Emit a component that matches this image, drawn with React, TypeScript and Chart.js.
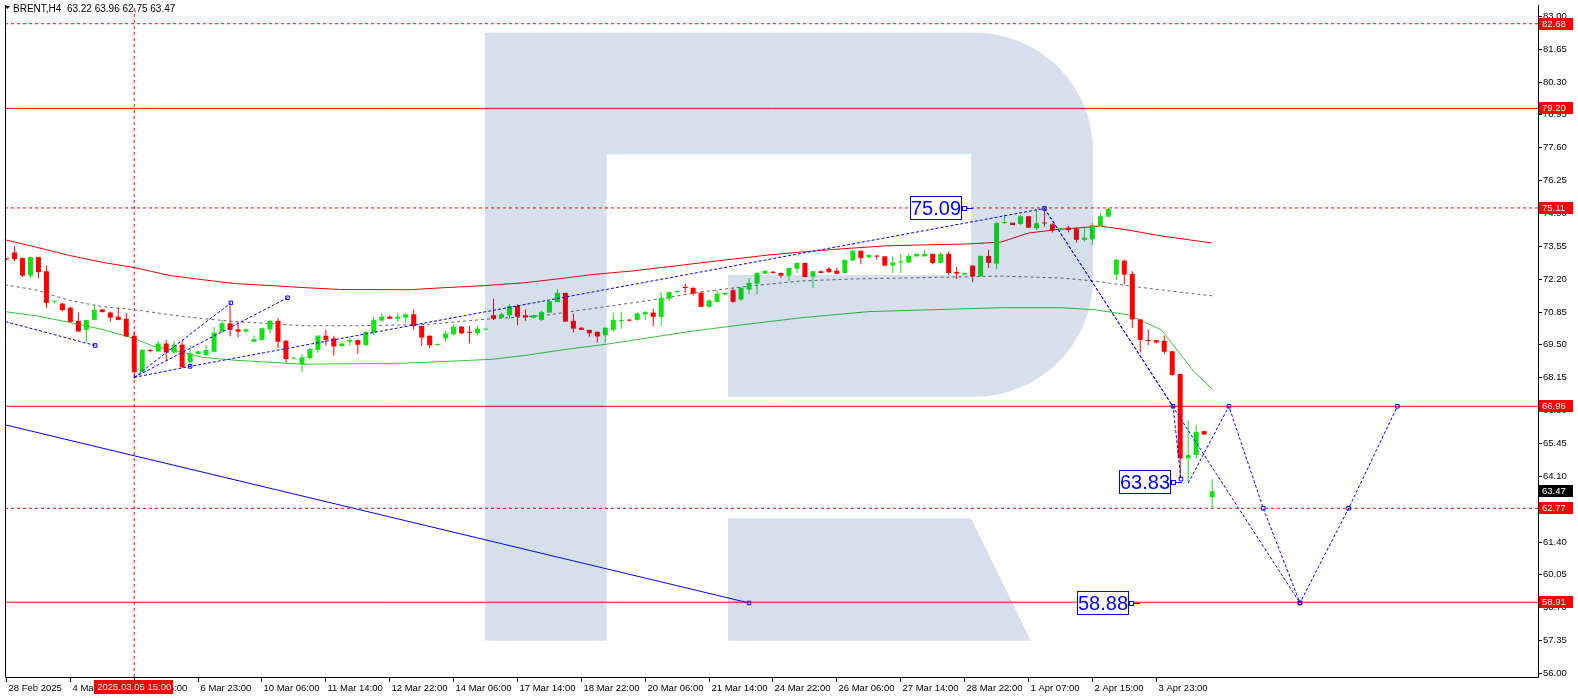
import React, { useEffect, useRef } from "react";
import { Chart, registerables } from "chart.js";

Chart.register(...registerables);

// ---- Candles (BRENT H4), bar index 0 = 28 Feb 2025 ----
const opens = [
  73.03, 73.28, 73.05, 72.33, 73.09, 72.51, 71.26, 71.18, 71.01, 70.47,
  70.10, 70.51, 70.94, 70.81, 70.64, 70.56, 69.86, 68.36, 69.25, 69.21,
  69.54, 69.17, 69.49, 68.77, 69.11, 69.06, 69.20, 70.03, 70.37, 70.12,
  70.03, 69.61, 69.69, 70.12, 70.47, 69.65, 68.92, 68.70, 68.94, 69.28,
  69.86, 69.75, 69.43, 69.61, 69.68, 69.47, 69.99, 70.48, 70.64, 70.56,
  70.60, 70.74, 70.26, 69.86, 69.48, 69.75, 69.92, 70.23, 70.00, 69.96,
  70.11, 70.70, 70.60, 70.70, 71.08, 70.70, 70.60, 70.51, 70.81, 71.24,
  71.62, 70.47, 70.19, 70.10, 70.02, 69.88, 70.10, 70.46, 70.50, 70.51,
  70.74, 70.81, 70.64, 71.38, 71.65, 71.84, 71.83, 71.62, 71.05, 71.25,
  71.55, 71.73, 71.35, 71.76, 72.00, 72.41, 72.49, 72.44, 72.33, 72.61,
  72.85, 72.30, 72.51, 72.61, 72.53, 72.44, 72.95, 73.35, 73.08, 73.13,
  73.12, 72.74, 72.87, 72.87, 73.12, 73.12, 73.22, 72.85, 73.22, 72.48,
  72.37, 72.74, 72.30, 73.14, 72.82, 74.49, 74.50, 74.45, 74.77, 74.27,
  74.49, 74.44, 74.20, 74.30, 74.27, 73.80, 73.82, 74.34, 74.75, 72.37,
  72.94, 72.40, 70.53, 69.66, 69.68, 69.65, 69.22, 68.29, 64.82, 64.96,
  65.94, 63.22,
];
const highs = [
  73.05, 73.53, 73.07, 73.10, 73.10, 72.75, 71.31, 71.21, 71.05, 70.81,
  70.51, 71.15, 70.97, 70.85, 71.01, 70.78, 70.06, 69.31, 69.31, 69.65,
  69.69, 69.65, 69.65, 69.45, 69.23, 69.49, 70.23, 70.51, 71.10, 70.43,
  70.16, 69.87, 70.20, 70.51, 70.60, 69.69, 68.98, 69.11, 69.37, 69.88,
  70.10, 69.86, 69.55, 69.79, 69.69, 70.06, 70.64, 70.77, 70.70, 70.77,
  70.77, 70.94, 70.27, 69.87, 69.54, 70.06, 70.33, 70.26, 70.26, 70.26,
  70.15, 71.38, 70.81, 71.15, 71.15, 70.94, 70.72, 70.88, 71.29, 71.78,
  71.63, 70.77, 70.21, 70.11, 70.03, 70.20, 70.78, 70.83, 70.54, 70.81,
  70.88, 70.97, 71.65, 71.69, 71.72, 72.00, 71.84, 71.69, 71.35, 71.73,
  71.64, 71.78, 71.84, 72.23, 72.47, 72.54, 72.51, 72.45, 72.65, 72.87,
  72.86, 72.52, 72.53, 72.68, 72.64, 72.99, 73.39, 73.36, 73.20, 73.18,
  73.14, 73.12, 73.22, 73.22, 73.24, 73.39, 73.23, 73.28, 73.32, 72.68,
  72.45, 72.75, 73.15, 73.39, 74.51, 74.85, 74.51, 74.82, 74.78, 75.03,
  75.09, 74.48, 74.28, 74.38, 74.30, 74.27, 74.48, 74.91, 75.11, 73.01,
  72.98, 72.51, 70.54, 70.12, 69.69, 69.86, 69.24, 68.30, 66.39, 66.19,
  65.95, 63.96,
];
const lows = [
  72.97, 72.93, 72.27, 72.21, 72.21, 71.01, 71.18, 70.87, 70.40, 70.02,
  69.58, 70.50, 70.81, 70.43, 70.50, 69.82, 68.09, 68.35, 69.17, 69.20,
  68.84, 69.11, 68.55, 68.63, 69.09, 69.05, 69.19, 69.99, 69.83, 69.79,
  70.00, 69.60, 69.65, 69.96, 69.35, 68.77, 68.88, 68.36, 68.88, 69.15,
  69.45, 69.04, 69.42, 69.45, 69.11, 69.45, 69.88, 70.43, 70.55, 70.43,
  70.40, 70.10, 69.45, 69.34, 69.45, 69.62, 69.88, 69.92, 69.55, 69.88,
  70.09, 70.51, 70.56, 70.56, 70.29, 70.47, 70.58, 70.47, 70.80, 71.23,
  70.43, 69.99, 70.08, 69.83, 69.58, 69.58, 70.02, 70.15, 70.44, 70.47,
  70.51, 70.26, 70.26, 71.28, 71.63, 71.62, 71.51, 71.04, 71.01, 71.24,
  71.53, 71.21, 71.28, 71.55, 71.55, 72.40, 72.42, 72.23, 72.10, 72.44,
  72.26, 71.83, 72.43, 72.44, 72.40, 72.43, 72.94, 72.80, 73.06, 72.98,
  72.71, 72.44, 72.44, 72.85, 73.10, 73.11, 72.80, 72.84, 72.37, 72.19,
  72.36, 72.06, 72.29, 72.64, 72.60, 74.45, 74.40, 74.41, 74.29, 74.20,
  74.34, 74.10, 74.19, 74.10, 73.69, 73.73, 73.59, 74.33, 74.72, 72.14,
  71.96, 70.19, 69.17, 69.47, 69.54, 69.11, 68.22, 64.00, 63.83, 64.82,
  65.79, 62.75,
];
const closes = [
  73.00, 73.01, 72.33, 73.09, 72.47, 71.21, 71.27, 70.91, 70.43, 70.03,
  70.50, 70.92, 70.83, 70.60, 70.51, 69.83, 68.36, 69.28, 69.23, 69.54,
  69.17, 69.49, 68.56, 69.13, 69.22, 69.27, 69.99, 70.37, 70.10, 70.03,
  70.12, 69.72, 70.17, 70.47, 69.61, 68.90, 68.94, 68.97, 69.31, 69.86,
  69.69, 69.42, 69.54, 69.68, 69.49, 70.02, 70.51, 70.64, 70.56, 70.64,
  70.74, 70.26, 69.79, 69.47, 69.50, 69.95, 70.23, 69.96, 69.98, 70.15,
  70.13, 70.56, 70.74, 71.08, 70.64, 70.61, 70.70, 70.83, 71.28, 71.62,
  70.44, 70.15, 70.10, 69.96, 69.83, 70.19, 70.51, 70.48, 70.48, 70.78,
  70.83, 70.64, 71.42, 71.65, 71.70, 71.82, 71.59, 71.05, 71.31, 71.59,
  71.62, 71.25, 71.83, 72.03, 72.44, 72.53, 72.44, 72.33, 72.64, 72.85,
  72.27, 72.51, 72.44, 72.47, 72.41, 72.98, 73.35, 73.05, 73.18, 73.11,
  72.74, 72.87, 72.91, 73.14, 73.22, 73.22, 72.85, 73.22, 72.44, 72.41,
  72.44, 72.30, 73.14, 72.85, 74.50, 74.51, 74.41, 74.77, 74.30, 74.48,
  74.47, 74.18, 74.27, 74.20, 73.80, 73.89, 74.41, 74.77, 75.07, 72.98,
  72.37, 70.53, 69.69, 69.64, 69.58, 69.20, 68.25, 64.82, 64.96, 65.91,
  65.80, 63.47,
];

// ---- Indicator lines (sampled at bar positions) ----
const upperBars = [-0.2, 3.7, 8, 12.1, 16, 20.5, 24.6, 28.7, 33, 37.1, 41.7, 50.5, 54.6, 60, 65, 69.2, 73.3, 78.7, 87.1, 95.5, 99.6, 104.6, 110, 114.6, 120.5, 124.6, 128, 132.1, 137.1, 140.5, 144.6, 151];
const upperVals = [73.80, 73.50, 73.15, 72.87, 72.66, 72.33, 72.16, 72.00, 71.92, 71.84, 71.76, 71.75, 71.83, 71.92, 72.04, 72.20, 72.37, 72.53, 72.86, 73.18, 73.30, 73.43, 73.55, 73.59, 73.63, 73.71, 74.08, 74.24, 74.36, 74.20, 73.96, 73.67];
const midBars = [-0.2, 3.7, 8, 12.1, 16, 20.5, 24.6, 28.7, 33, 37.1, 44.2, 52.5, 56.7, 60.9, 67.1, 75.8, 80.9, 87.1, 93.3, 99.6, 105.8, 112.1, 118.3, 124.6, 132.1, 136.2, 140.5, 146.7, 151];
const midVals = [71.95, 71.74, 71.30, 71.05, 70.93, 70.72, 70.56, 70.44, 70.36, 70.27, 70.27, 70.32, 70.44, 70.56, 70.68, 71.09, 71.33, 71.66, 71.91, 72.11, 72.19, 72.23, 72.27, 72.31, 72.23, 72.11, 71.91, 71.66, 71.50];
const lowerBars = [-0.2, 3.7, 8, 12.1, 16, 18.4, 20.5, 24.6, 28.7, 33, 37.1, 49.6, 55.5, 60.8, 65, 69.2, 75.8, 85.5, 91.2, 99.6, 108, 116.2, 124.6, 132.1, 136.2, 140.5, 144.6, 148.8, 151];
const lowerVals = [70.85, 70.68, 70.40, 70.11, 69.75, 69.42, 69.30, 68.97, 68.85, 68.77, 68.69, 68.73, 68.81, 68.89, 69.05, 69.26, 69.54, 70.03, 70.27, 70.60, 70.85, 70.93, 71.01, 71.01, 70.93, 70.72, 70.11, 68.36, 67.67];

// ---- Horizontal levels ----
const solidLevels = [79.2, 66.96, 58.91];
const dashedLevels = [82.68, 75.11, 62.77];
const levelTags = [82.68, 79.2, 75.11, 66.96, 62.77, 58.91];
const lastPrice = 63.47;
const markerBar = 16;
const markerLabel = "2025.03.05 15:00";

// ---- Drawn trend / forecast lines: [bar, price] ----
const trendA: number[][] = [[-0.15, 70.44], [11.1, 69.46]];
const trendB: number[][] = [[16, 68.15], [28.1, 71.21]];
const trendC: number[][] = [[16, 68.15], [35.2, 71.42]];
const trendD: number[][] = [[16, 68.15], [23, 68.6], [130, 75.09]];
const solidTrend: number[][] = [[-0.2, 66.2], [93, 58.88]];
const forecastA: number[][] = [[130, 75.09], [162, 58.88]];
const forecastB: number[][] = [[130, 75.09], [146.1, 66.96], [147.1, 63.97]];
const forecastC: number[][] = [[148, 63.8], [153.1, 66.96], [157.4, 62.77], [162, 58.88], [168.1, 62.77], [174.2, 66.96]];
const priceNotes = [
  { text: "75.09", bar: 119.9, price: 75.09 },
  { text: "63.83", bar: 146.06, price: 63.83 },
  { text: "58.88", bar: 140.9, price: 58.88 },
];

// ---- Axes ----
const yTicks = [56.0, 57.35, 58.7, 60.05, 61.4, 62.75, 64.1, 65.45, 66.8, 68.15, 69.5, 70.85, 72.2, 73.55, 74.9, 76.25, 77.6, 78.95, 80.3, 81.65, 83.0];
const xTickBars = [0, 8, 16, 24, 32, 40, 48, 56, 64, 72, 80, 88, 96, 104, 112, 120, 128, 136, 144];
const xTickLabels = [
  "28 Feb 2025", "4 Mar 07:00", "5 Mar 15:00", "6 Mar 23:00", "10 Mar 06:00", "11 Mar 14:00",
  "12 Mar 22:00", "14 Mar 06:00", "17 Mar 14:00", "18 Mar 22:00", "20 Mar 06:00", "21 Mar 14:00",
  "24 Mar 22:00", "26 Mar 06:00", "27 Mar 14:00", "28 Mar 22:00", "1 Apr 07:00", "2 Apr 15:00", "3 Apr 23:00",
];
const headerText = "BRENT,H4  63.22 63.96 62.75 63.47";

const GREEN = "#14e014";
const RED = "#ff0000";
const BLUE = "#0000ff";
const FONT = "'Liberation Sans', Arial, sans-serif";

export default function App() {
  const ref = useRef<HTMLCanvasElement>(null);

  useEffect(() => {
    const canvas = ref.current;
    if (!canvas) return;
    const idx = opens.map((_, i) => i);
    const colors = idx.map((i) => (closes[i] >= opens[i] ? GREEN : RED));
    const bodies = idx.map((i) => ({ x: i, y: [opens[i], closes[i]] }));
    const wicks = idx.map((i) => ({ x: i, y: [lows[i], highs[i]] }));
    const X_MIN = -0.1875;
    const X_MAX = 191.8125;
    const Y_MIN = 55.8369;
    const Y_MAX = 83.4486;

    const toPts = (a: number[][]) => a.map((p) => ({ x: p[0], y: p[1] }));
    const line = (data: any[], color: string, dash: number[], order: number, markers = false) => ({
      type: "line" as const,
      data,
      borderColor: color,
      borderWidth: 1,
      borderDash: dash,
      pointRadius: markers ? (c: any) => (c.dataIndex === 0 ? 0 : 2.5) : 0,
      pointStyle: "rect",
      pointBackgroundColor: "rgba(255,255,255,0)",
      pointBorderColor: color,
      pointBorderWidth: 1,
      fill: false,
      tension: 0,
      order,
    });

    const datasets: any[] = [
      line(toPts(trendA), BLUE, [3, 2], 0, true),
      line(toPts(trendB), BLUE, [3, 2], 0, true),
      line(toPts(trendC), BLUE, [3, 2], 0, true),
      line(toPts(trendD), BLUE, [3, 2], 0, true),
      line(toPts(solidTrend), BLUE, [], 0, true),
      line(toPts(forecastA), BLUE, [3, 2], 0, true),
      line(toPts(forecastB), BLUE, [3, 2], 0, true),
      line(toPts(forecastC), BLUE, [3, 2], 0, true),
      {
        type: "bar",
        data: bodies,
        backgroundColor: colors,
        barThickness: 5,
        minBarLength: 1,
        grouped: false,
        inflateAmount: 0,
        borderWidth: 0,
        order: 1,
      },
      {
        type: "bar",
        data: wicks,
        backgroundColor: colors,
        barThickness: 1,
        minBarLength: 1,
        grouped: false,
        inflateAmount: 0,
        borderWidth: 0,
        order: 2,
      },
      line(upperBars.map((b, i) => ({ x: b, y: upperVals[i] })), "#ff0000", [], 3),
      line(midBars.map((b, i) => ({ x: b, y: midVals[i] })), "#666666", [3, 3], 3),
      line(lowerBars.map((b, i) => ({ x: b, y: lowerVals[i] })), "#32c832", [], 3),
      ...solidLevels.map((v) => line([{ x: X_MIN, y: v }, { x: X_MAX, y: v }], RED, [], 4)),
      ...dashedLevels.map((v) => line([{ x: X_MIN, y: v }, { x: X_MAX, y: v }], RED, [3, 3], 4)),
      line([{ x: markerBar, y: Y_MIN }, { x: markerBar, y: Y_MAX }], RED, [3, 3], 4),
    ];

    const decor = {
      id: "decor",
      beforeDraw(chart: any) {
        const c = chart.ctx;
        c.save();
        c.fillStyle = "#ffffff";
        c.fillRect(0, 0, chart.width, chart.height);
        c.restore();
      },
      afterDatasetsDraw(chart: any) {
        const c = chart.ctx;
        c.save();
        c.fillStyle = "rgba(0,61,136,0.16)";
        c.beginPath();
        c.moveTo(485, 32.7);
        c.lineTo(975, 32.7);
        c.arcTo(1093, 32.7, 1093, 150, 118);
        c.lineTo(1093, 279);
        c.arcTo(1093, 396.7, 975, 396.7, 118);
        c.lineTo(728, 396.7);
        c.lineTo(728, 275);
        c.lineTo(971, 275);
        c.lineTo(971, 154.3);
        c.lineTo(606.6, 154.3);
        c.lineTo(606.6, 640.7);
        c.lineTo(485, 640.7);
        c.closePath();
        c.moveTo(728, 518.3);
        c.lineTo(971, 518.3);
        c.lineTo(1031, 640.7);
        c.lineTo(728, 640.7);
        c.closePath();
        c.fill();
        c.restore();
      },
      afterDraw(chart: any) {
        const c = chart.ctx;
        const xs = chart.scales.x;
        const ys = chart.scales.y;
        const a = chart.chartArea;
        c.save();
        // frame
        c.strokeStyle = "#000";
        c.lineWidth = 1;
        c.setLineDash([]);
        c.beginPath();
        c.moveTo(a.left + 0.5, a.top);
        c.lineTo(a.left + 0.5, a.bottom + 0.5);
        c.lineTo(a.right + 0.5, a.bottom + 0.5);
        c.moveTo(a.right + 0.5, a.top);
        c.lineTo(a.right + 0.5, a.bottom + 0.5);
        c.stroke();

        // y ticks
        c.font = `9.5px ${FONT}`;
        c.textBaseline = "middle";
        c.textAlign = "left";
        c.fillStyle = "#000";
        yTicks.forEach((v) => {
          const y = Math.round(ys.getPixelForValue(v)) + 0.5;
          c.beginPath();
          c.moveTo(a.right, y);
          c.lineTo(a.right + 4, y);
          c.stroke();
          c.fillText(v.toFixed(2), a.right + 5, y);
        });

        // x ticks
        xTickBars.forEach((b, i) => {
          const x = Math.round(xs.getPixelForValue(b) - 0.5) + 0.5;
          c.beginPath();
          c.moveTo(x, a.bottom);
          c.lineTo(x, a.bottom + 5);
          c.stroke();
          c.fillStyle = "#000";
          c.fillText(xTickLabels[i], x + 2, a.bottom + 11);
        });

        // level price tags
        const tag = (v: number, bg: string) => {
          const y = Math.round(ys.getPixelForValue(v));
          c.fillStyle = bg;
          c.fillRect(a.right + 1, y - 6, 34, 12);
          c.fillStyle = "#fff";
          c.fillText(v.toFixed(2), a.right + 4, y);
        };
        levelTags.forEach((v) => tag(v, RED));
        tag(lastPrice, "#000");

        // date marker box on x axis
        const mx = xs.getPixelForValue(markerBar);
        c.fillStyle = RED;
        c.fillRect(Math.round(mx - 40), a.bottom + 3, 79, 14);
        c.fillStyle = "#fff";
        c.textAlign = "center";
        c.fillText(markerLabel, mx, a.bottom + 10.5);

        // header
        c.fillStyle = "#000";
        c.beginPath();
        c.moveTo(5, 6);
        c.lineTo(10, 6);
        c.lineTo(7.5, 9);
        c.closePath();
        c.fill();
        c.font = `10px ${FONT}`;
        c.textAlign = "left";
        c.fillText(headerText, 13, 9);

        // price notes
        c.font = `20px ${FONT}`;
        priceNotes.forEach((n) => {
          const x = Math.round(xs.getPixelForValue(n.bar));
          const y = Math.round(ys.getPixelForValue(n.price));
          c.fillStyle = "#fff";
          c.fillRect(x - 54, y - 12, 52, 24);
          c.strokeStyle = BLUE;
          c.lineWidth = 1;
          c.strokeRect(x - 53.5, y - 11.5, 51, 23);
          c.fillStyle = BLUE;
          c.textAlign = "center";
          c.fillText(n.text, x - 28, y + 1);
          c.beginPath();
          c.moveTo(x - 2, y + 0.5);
          c.lineTo(x + 9, y + 0.5);
          c.stroke();
          c.fillStyle = "#fff";
          c.fillRect(x - 1, y - 1, 3, 3);
          c.strokeRect(x - 1.5, y - 1.5, 4, 4);
        });
        c.restore();
      },
    };

    const chart = new Chart(canvas, {
      type: "bar",
      data: { datasets },
      options: {
        animation: false,
        responsive: false,
        devicePixelRatio: 1,
        events: [],
        layout: { padding: { left: 2, top: 0, right: 40, bottom: 21 } },
        plugins: { legend: { display: false }, tooltip: { enabled: false } },
        scales: {
          x: { type: "linear", min: X_MIN, max: X_MAX, display: false, offset: false },
          y: { type: "linear", min: Y_MIN, max: Y_MAX, display: false },
        },
      } as any,
      plugins: [decor],
    } as any);
    return () => chart.destroy();
  }, []);

  return (
    <div style={{ position: "absolute", left: 0, top: 0, width: 1578, height: 698, background: "#fff" }}>
      <canvas ref={ref} width={1578} height={698} style={{ display: "block" }} />
    </div>
  );
}
